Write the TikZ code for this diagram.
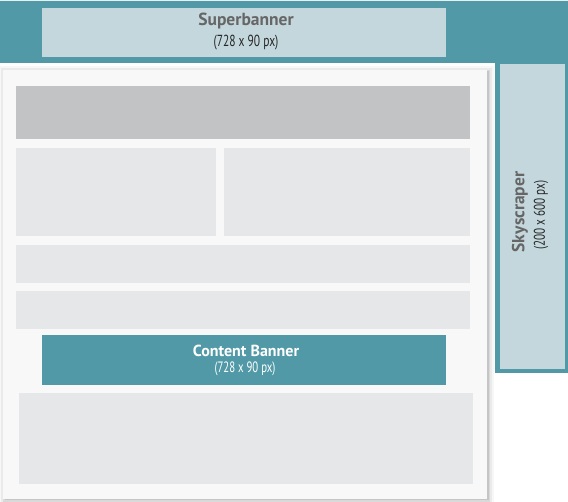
\documentclass[tikz,border=0pt]{standalone}
\usepackage{fontspec}
\setmainfont{PT Sans}
\newfontfamily\condfont[FakeStretch=0.72]{PT Sans}
\definecolor{teal1}{HTML}{5199A7}
\definecolor{lightbox}{HTML}{C3D7DD}
\definecolor{barfill}{HTML}{E6E7E8}
\definecolor{headfill}{HTML}{C2C3C5}
\definecolor{panelfill}{HTML}{F8F8F8}
\definecolor{labgray}{HTML}{666666}
\begin{document}
\begin{tikzpicture}[x=1pt,y=-1pt,
  titletext/.style={font=\bfseries\fontsize{17.5}{19}\selectfont},
  subtext/.style={font=\condfont\fontsize{16}{18}\selectfont}]
\useasboundingbox[fill=white] (0,0) rectangle (568,502);
% teal L-shape
\fill[teal1] (0,1) rectangle (568,63);
\fill[teal1] (495,62) rectangle (568,373);
\fill[white!85!teal1] (0,0) rectangle (568,1);
% superbanner
\fill[lightbox] (42,8) rectangle (446,57);
\node[titletext,text=labgray] (sbt) at (246,21) {Superbanner};
\node[subtext,text=black!85] (sbs) at (246,43) {(728 x 90 px)};
% skyscraper
\fill[lightbox] (500,64) rectangle (565,369);
\node[titletext,text=labgray,rotate=90] (sst) at (520,212) {Skyscraper};
\node[subtext,text=black!85,rotate=90,font=\condfont\fontsize{15.5}{17}\selectfont] (sss) at (541,215) {(200 x 600 px)};
% panel shadow
\foreach \d/\o in {7/0.03,5/0.05,3/0.07,1.5/0.09}{
  \fill[black,opacity=\o] (3-\d+3,70-\d+3) rectangle (487+\d,499+\d);
}
\fill[panelfill] (3,70) rectangle (487,499);
% content blocks
\fill[headfill] (16,86) rectangle (470,139);
\fill[barfill] (16,148) rectangle (216,236);
\fill[barfill] (224,148) rectangle (470,236);
\fill[barfill] (16,245) rectangle (470,283);
\fill[barfill] (16,291) rectangle (470,329);
\fill[teal1] (42,335) rectangle (446,385);
\node[text=white,font=\bfseries\fontsize{16}{18}\selectfont] (cbt) at (246,351) {Content Banner};
\node[text=white,font=\condfont\fontsize{15}{17}\selectfont] (cbs) at (245,369) {(728 x 90 px)};
\fill[barfill] (19,393) rectangle (473,484);
\end{tikzpicture}
\end{document}
